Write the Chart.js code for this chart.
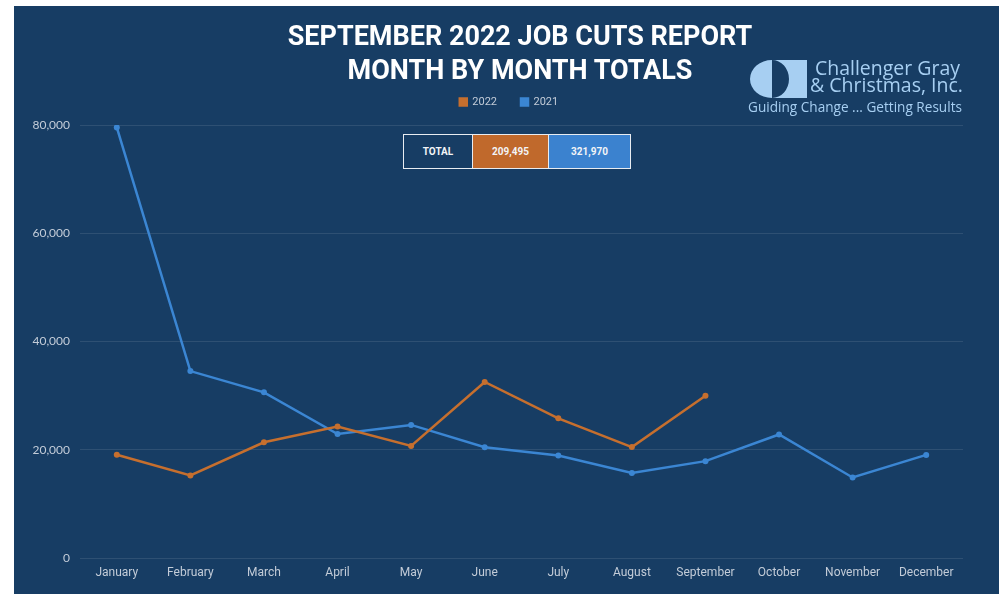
<!DOCTYPE html>
<html lang="en">
<head>
    <meta charset="UTF-8">
    <title>Job Cuts Report</title>
    <script src="https://cdn.jsdelivr.net/npm/chart.js"></script>
    <style>
        body {
            margin: 0;
            background: #ffffff;
            width: 999px;
            height: 594px;
            overflow: hidden;
        }

        .panel {
            position: absolute;
            left: 14px;
            top: 6px;
            width: 985px;
            height: 588px;
            background: #173d64;
        }

        .chart-box {
            position: absolute;
            left: 0;
            top: 0;
            width: 985px;
            height: 588px;
        }

        .report-title {
            position: absolute;
            left: 206px;
            width: 600px;
            top: 13px;
            margin: 0;
            text-align: center;
            color: #ffffff;
            font-family: Roboto, sans-serif;
            font-weight: 700;
            font-size: 27px;
            line-height: 34px;
        }

        .logo {
            position: absolute;
            left: 726px;
            top: 44px;
        }

        .totals {
            position: absolute;
            left: 389px;
            top: 128px;
            border-collapse: collapse;
            font-family: Roboto, sans-serif;
            font-weight: 700;
            font-size: 10px;
            color: #f2f4f7;
        }

        .totals td {
            border: 1.5px solid #e8ecf1;
            height: 33px;
            padding: 0;
            text-align: center;
        }
    </style>
</head>
<body>
    <div class="panel">
        <div class="chart-box">
            <canvas id="cutsChart"></canvas>
        </div>

        <h1 class="report-title">SEPTEMBER 2022 JOB CUTS REPORT<br>MONTH BY MONTH TOTALS</h1>

        <svg class="logo" width="240" height="72" viewBox="0 0 240 72">
            <!-- left half disc, dark bite, square block -->
            <path d="M32 10 A22 19 0 0 0 32 48 Z" fill="#a7cff2"/>
            <rect x="32" y="10" width="35" height="38" fill="#a7cff2"/>
            <path d="M32 10 A17 19 0 0 1 32 48 Z" fill="#173d64"/>
            <text x="75" y="25" textLength="145" lengthAdjust="spacingAndGlyphs"
                  font-family="Open Sans, sans-serif" font-size="20" fill="#a7cff2">Challenger Gray</text>
            <text x="70" y="42" textLength="153" lengthAdjust="spacingAndGlyphs"
                  font-family="Open Sans, sans-serif" font-size="20" fill="#a7cff2">&amp; Christmas, Inc.</text>
            <text x="8" y="62" textLength="214" lengthAdjust="spacingAndGlyphs"
                  font-family="Open Sans, sans-serif" font-size="15" fill="#a7cff2">Guiding Change ... Getting Results</text>
        </svg>

        <table class="totals">
            <tr>
                <td style="width: 68px; background: #173d64;">TOTAL</td>
                <td id="total2022" style="width: 75px; background: #c0692c;"></td>
                <td id="total2021" style="width: 81px; background: #3b82cf;"></td>
            </tr>
        </table>
    </div>

    <script>
        const months = ['January', 'February', 'March', 'April', 'May', 'June',
            'July', 'August', 'September', 'October', 'November', 'December'];

        // announced job cuts per month
        const cuts2022 = [19064, 15245, 21387, 24286, 20712, 32517, 25810, 20485, 29989];
        const cuts2021 = [79552, 34531, 30603, 22913, 24586, 20476, 18942, 15723, 17895, 22822, 14875, 19052];

        const seriesNames = ['2022', '2021'];
        const seriesColors = ['#c66f2e', '#3b86d3'];

        const sum = arr => arr.reduce((a, b) => a + b, 0);
        document.getElementById('total2022').textContent = sum(cuts2022).toLocaleString('en-US');
        document.getElementById('total2021').textContent = sum(cuts2021).toLocaleString('en-US');

        const tickColor = '#c3ccd8';

        function lineSet(label, data, color) {
            return {
                label: label,
                data: data,
                borderColor: color,
                backgroundColor: color,
                borderWidth: 2.5,
                pointRadius: 3,
                pointHoverRadius: 4,
                pointBackgroundColor: color,
                pointBorderWidth: 0,
                tension: 0
            };
        }

        new Chart(document.getElementById('cutsChart'), {
            type: 'line',
            data: {
                labels: months,
                datasets: [
                    lineSet(seriesNames[0], cuts2022, seriesColors[0]),
                    lineSet(seriesNames[1], cuts2021, seriesColors[1])
                ]
            },
            options: {
                responsive: true,
                maintainAspectRatio: false,
                animation: false,
                layout: {
                    padding: { top: 66.5, left: 16, right: 11, bottom: 6 }
                },
                plugins: {
                    legend: {
                        position: 'top',
                        fullSize: true,
                        labels: {
                            color: tickColor,
                            boxWidth: 7,
                            boxHeight: 7,
                            padding: 24,
                            font: { family: 'Roboto', size: 11 }
                        }
                    },
                    // empty subtitle keeps a small gap between legend and plot
                    subtitle: {
                        display: true,
                        text: '',
                        weight: 500,
                        font: { size: 1, lineHeight: 1 },
                        padding: { top: 0, bottom: 6.5 }
                    },
                    tooltip: { enabled: false }
                },
                scales: {
                    x: {
                        offset: true,
                        grid: { display: false },
                        border: { display: false },
                        ticks: {
                            color: tickColor,
                            padding: 0,
                            maxRotation: 0,
                            autoSkip: false,
                            font: { family: 'Roboto', size: 12 }
                        },
                        afterFit(scale) { scale.height = 30; }
                    },
                    y: {
                        min: 0,
                        max: 80000,
                        border: { display: false },
                        grid: {
                            color: 'rgba(255, 255, 255, 0.1)',
                            drawTicks: false
                        },
                        ticks: {
                            stepSize: 20000,
                            color: tickColor,
                            padding: 10,
                            font: { family: 'Lato', size: 12 }
                        },
                        afterFit(scale) { scale.width = 50; }
                    },
                    // empty right-hand axis, balances the legend over the plot
                    balance: {
                        type: 'linear',
                        position: 'right',
                        grid: { display: false },
                        border: { display: false },
                        ticks: { display: false },
                        afterFit(scale) { scale.width = 25; }
                    }
                }
            }
        });
    </script>
</body>
</html>
